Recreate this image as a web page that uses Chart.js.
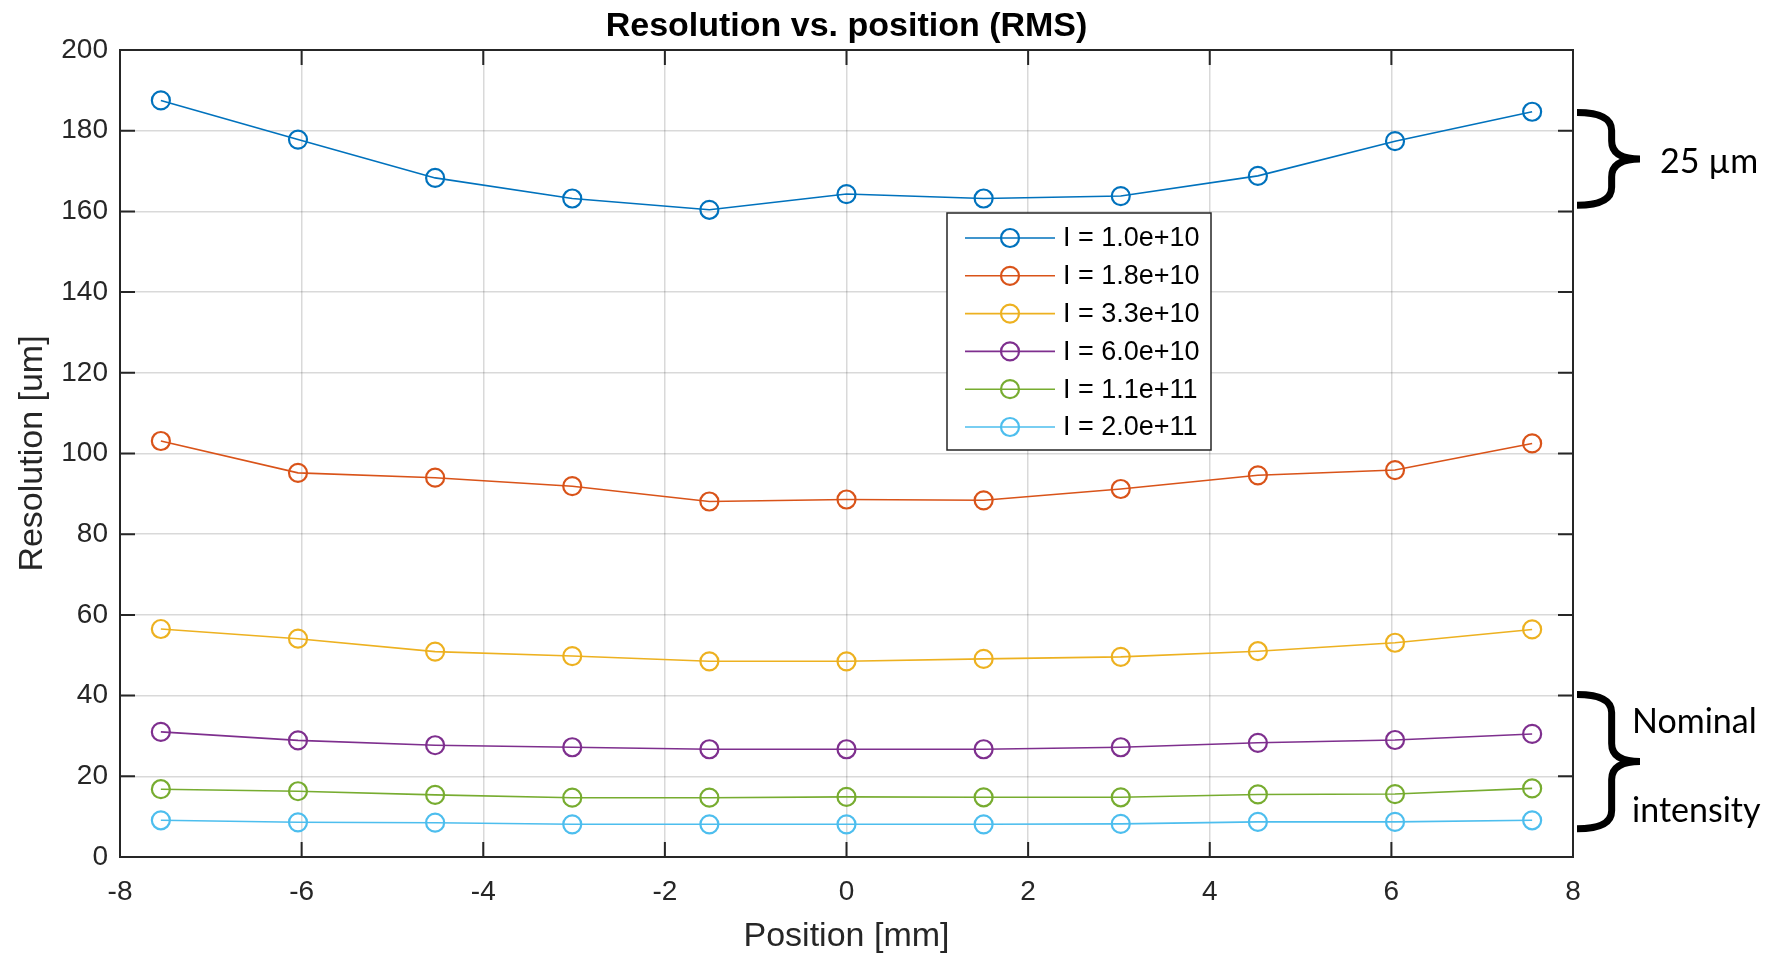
<!DOCTYPE html>
<html>
<head>
<meta charset="utf-8">
<title>Resolution vs. position (RMS)</title>
<script src="https://cdn.jsdelivr.net/npm/chart.js@4.4.1/dist/chart.umd.min.js"></script>
<style>
  html, body { margin: 0; padding: 0; background: #ffffff; }
  #wrap { width: 1768px; height: 954px; }
</style>
</head>
<body>
<div id="wrap"><canvas id="graphCanvas" width="1768" height="954"></canvas></div>
<script>
// beam positions [mm]
const positions = [-7.55, -6.04, -4.53, -3.02, -1.51, 0, 1.51, 3.02, 4.53, 6.04, 7.55];

// RMS resolution [um] per intensity
const resI10e9 = [187.5, 177.8, 168.3, 163.2, 160.4, 164.3, 163.2, 163.8, 168.8, 177.4, 184.7];
const resI18e9 = [103.1, 95.2, 94.0, 91.9, 88.1, 88.6, 88.4, 91.2, 94.6, 95.9, 102.5];
const resI33e9 = [56.5, 54.1, 50.9, 49.8, 48.5, 48.5, 49.1, 49.6, 51.0, 53.1, 56.4];
const resI60e9 = [31.0, 28.9, 27.7, 27.2, 26.7, 26.7, 26.7, 27.2, 28.3, 29.0, 30.5];
const resI11e10 = [16.8, 16.3, 15.4, 14.7, 14.7, 14.9, 14.8, 14.8, 15.5, 15.6, 17.0];
const resI20e10 = [9.1, 8.6, 8.5, 8.1, 8.1, 8.1, 8.1, 8.2, 8.7, 8.7, 9.1];

const seriesLabels = ['I = 1.0e+10', 'I = 1.8e+10', 'I = 3.3e+10', 'I = 6.0e+10', 'I = 1.1e+11', 'I = 2.0e+11'];
const seriesValues = [resI10e9, resI18e9, resI33e9, resI60e9, resI11e10, resI20e10];
const seriesColors = ['#0072BD', '#D95319', '#EDB120', '#7E2F8E', '#77AC30', '#4DBEEE'];

// bracket annotations on the right: [top value, bottom value]
const spreadBracket = [184.5, 161.5];
const nominalBracket = [40.3, 7.0];

const axisColor = '#262626';
const fontFamily = '"Liberation Sans", Arial, Helvetica, sans-serif';

function drawBrace(ctx, x, yTop, yBot, w) {
  const yMid = (yTop + yBot) / 2;
  const sx = x + w * 0.55;
  const r = 18;
  ctx.beginPath();
  ctx.moveTo(x, yTop);
  ctx.quadraticCurveTo(sx, yTop, sx, yTop + r);
  ctx.lineTo(sx, yMid - r);
  ctx.quadraticCurveTo(sx, yMid, x + w, yMid);
  ctx.quadraticCurveTo(sx, yMid, sx, yMid + r);
  ctx.lineTo(sx, yBot - r);
  ctx.quadraticCurveTo(sx, yBot, x, yBot);
  ctx.stroke();
}

const frameAndExtras = {
  id: 'frameAndExtras',
  afterDatasetsDraw(chart) {
    const { ctx, chartArea: a, scales } = chart;
    const tick = 15;
    ctx.save();
    ctx.strokeStyle = axisColor;
    ctx.lineWidth = 2;
    // inward ticks on all four sides
    ctx.beginPath();
    scales.x.ticks.forEach((t) => {
      const px = scales.x.getPixelForValue(t.value);
      ctx.moveTo(px, a.bottom); ctx.lineTo(px, a.bottom - tick);
      ctx.moveTo(px, a.top); ctx.lineTo(px, a.top + tick);
    });
    scales.y.ticks.forEach((t) => {
      const py = scales.y.getPixelForValue(t.value);
      ctx.moveTo(a.left, py); ctx.lineTo(a.left + tick, py);
      ctx.moveTo(a.right, py); ctx.lineTo(a.right - tick, py);
    });
    ctx.stroke();
    ctx.strokeRect(a.left, a.top, a.right - a.left, a.bottom - a.top);

    // title over the plot area
    ctx.fillStyle = '#000000';
    ctx.font = 'bold 34px ' + fontFamily;
    ctx.textAlign = 'center';
    ctx.textBaseline = 'middle';
    ctx.fillText('Resolution vs. position (RMS)', (a.left + a.right) / 2, 27);

    // legend box
    const lx = 947, ly = 213, lw = 264, lh = 237;
    ctx.fillStyle = '#ffffff';
    ctx.fillRect(lx, ly, lw, lh);
    ctx.strokeStyle = '#262626';
    ctx.lineWidth = 1.5;
    ctx.strokeRect(lx, ly, lw, lh);
    ctx.font = '27px ' + fontFamily;
    ctx.textAlign = 'left';
    chart.data.datasets.forEach((ds, i) => {
      const cy = ly + 25 + i * 37.8;
      ctx.strokeStyle = ds.borderColor;
      ctx.lineWidth = 1.6;
      ctx.beginPath();
      ctx.moveTo(lx + 18, cy); ctx.lineTo(lx + 108, cy);
      ctx.stroke();
      ctx.lineWidth = 2.2;
      ctx.beginPath();
      ctx.arc(lx + 63, cy, 9, 0, Math.PI * 2);
      ctx.stroke();
      ctx.fillStyle = '#000000';
      ctx.fillText(ds.label, lx + 116, cy + 1);
    });

    // brackets and notes on the right
    ctx.strokeStyle = '#000000';
    ctx.lineWidth = 7;
    const bx = a.right + 4;
    const s1 = spreadBracket.map((v) => scales.y.getPixelForValue(v));
    const s2 = nominalBracket.map((v) => scales.y.getPixelForValue(v));
    drawBrace(ctx, bx, s1[0], s1[1], 63);
    drawBrace(ctx, bx, s2[0], s2[1], 63);
    ctx.fillStyle = '#000000';
    ctx.font = '34px Lato, "Open Sans", sans-serif';
    ctx.textAlign = 'left';
    ctx.fillText('25 µm', bx + 83, (s1[0] + s1[1]) / 2 + 3);
    ctx.fillText('Nominal', bx + 55, s2[0] + 28);
    ctx.fillText('intensity', bx + 55, s2[1] - 18);
    ctx.restore();
  }
};

const datasets = seriesValues.map((vals, i) => ({
  label: seriesLabels[i],
  data: positions.map((x, j) => ({ x, y: vals[j] })),
  borderColor: seriesColors[i],
  backgroundColor: 'rgba(0,0,0,0)',
  borderWidth: 1.6,
  pointRadius: 9,
  pointBorderWidth: 2.2,
  pointBorderColor: seriesColors[i],
  pointBackgroundColor: 'rgba(0,0,0,0)',
  tension: 0,
  fill: false
}));

const ctx = document.getElementById('graphCanvas').getContext('2d');
new Chart(ctx, {
  type: 'line',
  data: { datasets },
  options: {
    responsive: false,
    animation: false,
    layout: { padding: { top: 50, right: 195, left: 0, bottom: 0 } },
    plugins: {
      legend: { display: false },
      title: { display: false },
      tooltip: { enabled: false }
    },
    scales: {
      x: {
        type: 'linear',
        min: -8,
        max: 8,
        ticks: { stepSize: 2, color: axisColor, font: { size: 28, family: fontFamily }, padding: 18, maxRotation: 0 },
        grid: { color: 'rgba(0,0,0,0.15)', lineWidth: 1.5, drawTicks: false },
        border: { display: false },
        title: { display: true, text: 'Position [mm]', color: axisColor, font: { size: 34, family: fontFamily, lineHeight: 1.05 }, padding: 0 },
        afterFit(scale) { scale.height = 97; }
      },
      y: {
        min: 0,
        max: 200,
        ticks: { stepSize: 20, color: axisColor, font: { size: 28, family: fontFamily }, padding: 12 },
        grid: { color: 'rgba(0,0,0,0.15)', lineWidth: 1.5, drawTicks: false },
        border: { display: false },
        title: { display: true, text: 'Resolution [um]', color: axisColor, font: { size: 34, family: fontFamily }, padding: { top: 12, bottom: 0 } },
        afterFit(scale) { scale.width = 120; }
      }
    }
  },
  plugins: [frameAndExtras]
});
</script>
</body>
</html>
